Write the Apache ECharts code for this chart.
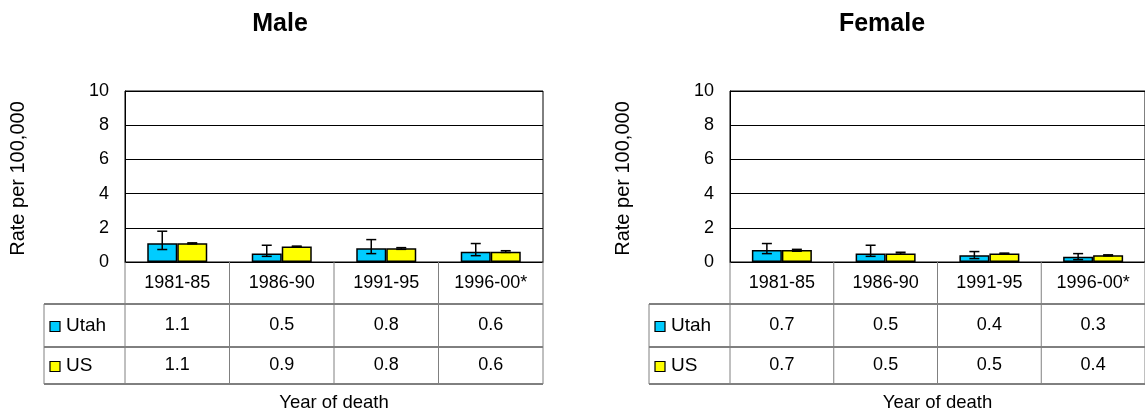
<!DOCTYPE html>
<html><head><meta charset="utf-8">
<script src="https://cdn.jsdelivr.net/npm/echarts@6/dist/echarts.min.js"></script>
<style>html,body{margin:0;padding:0;background:#fff}#c{width:1145px;height:418px}</style>
</head><body><div id="c"></div>
<script>
const categories = ['1981-85','1986-90','1991-95','1996-00*'];
const yTicks = [0,2,4,6,8,10];
const maleUtah = [1.1,0.5,0.8,0.6];
const maleUS = [1.1,0.9,0.8,0.6];
const femaleUtah = [0.7,0.5,0.4,0.3];
const femaleUS = [0.7,0.5,0.5,0.4];
const maleUtahLow = [0.73,0.33,0.49,0.37];
const maleUtahHigh = [1.8,0.98,1.31,1.08];
const maleUSLow = [1.06,0.88,0.74,0.56];
const maleUSHigh = [1.12,0.93,0.84,0.66];
const femaleUtahLow = [0.49,0.33,0.2,0.14];
const femaleUtahHigh = [1.08,0.98,0.61,0.49];
const femaleUSLow = [0.63,0.46,0.46,0.36];
const femaleUSHigh = [0.74,0.57,0.52,0.42];

const FONT = 'Arial, "Liberation Sans", sans-serif';
const CYAN = '#00CCFF', YELLOW = '#FFFF00';
const panels = [
  {title:'Male', left:125, tOff:150, utah:maleUtah, us:maleUS, uLo:maleUtahLow, uHi:maleUtahHigh, sLo:maleUSLow, sHi:maleUSHigh},
  {title:'Female', left:730, tOff:147, utah:femaleUtah, us:femaleUS, uLo:femaleUtahLow, uHi:femaleUtahHigh, sLo:femaleUSLow, sHi:femaleUSHigh}
];
const PW = 418, TOP = 91, PH = 171, BW = 30;

function errSeries(idx, lo, hi, off){
  return {
    type:'custom', xAxisIndex:idx, yAxisIndex:idx, z:5, silent:true,
    data: lo.map((v,i)=>[i, v, hi[i]]),
    encode:{x:0, y:[1,2]},
    renderItem:(params, api)=>{
      const a = api.coord([api.value(0), api.value(1)]);
      const b = api.coord([api.value(0), api.value(2)]);
      const x = a[0] + off, cw = 5;
      const st = {stroke:'#000', lineWidth:1.5};
      return {type:'group', children:[
        {type:'line', shape:{x1:x,y1:a[1],x2:x,y2:b[1]}, style:st},
        {type:'line', shape:{x1:x-cw,y1:a[1],x2:x+cw,y2:a[1]}, style:st},
        {type:'line', shape:{x1:x-cw,y1:b[1],x2:x+cw,y2:b[1]}, style:st}
      ]};
    }
  };
}

const option = {
  animation:false,
  backgroundColor:'#fff',
  title: panels.map((p,i)=>({
    text:p.title, left: p.left + p.tOff, top: 7, textAlign:'center',
    textStyle:{fontFamily:FONT, fontSize:25, fontWeight:'bold', color:'#000'}
  })),
  grid: panels.map(p=>({left:p.left, top:TOP, width:PW, height:PH, show:true, borderColor:'#000', borderWidth:1, containLabel:false})),
  xAxis: panels.map((p,i)=>({
    type:'category', gridIndex:i, data:categories,
    axisLine:{show:true, lineStyle:{color:'#000', width:1}},
    axisTick:{show:false}, axisLabel:{show:false}, splitLine:{show:false}
  })),
  yAxis: panels.map((p,i)=>({
    type:'value', gridIndex:i, min:yTicks[0], max:yTicks[yTicks.length-1], interval:2,
    axisLine:{show:true, lineStyle:{color:'#000'}}, axisTick:{show:false},
    axisLabel:{fontFamily:FONT, fontSize:18, color:'#000', margin:16},
    splitLine:{show:true, lineStyle:{color:'#000', width:1}}
  })),
  series: []
};
panels.forEach((p,i)=>{
  option.series.push({type:'bar', name:'Utah', xAxisIndex:i, yAxisIndex:i, data:p.utah, barWidth:BW, barGap:'0%',
    itemStyle:{color:CYAN, borderColor:'#000', borderWidth:1.5}});
  option.series.push({type:'bar', name:'US', xAxisIndex:i, yAxisIndex:i, data:p.us, barWidth:BW, barGap:'0%',
    itemStyle:{color:YELLOW, borderColor:'#000', borderWidth:1.5}});
  option.series.push(errSeries(i, p.uLo, p.uHi, -BW/2));
  option.series.push(errSeries(i, p.sLo, p.sHi, BW/2));
});

const chart = echarts.init(document.getElementById('c'), null, {renderer:'canvas'});
chart.setOption(option);

// data table below each plot
const g = [];
const H1 = 42, H2 = 43, H3 = 37, LEG = 81;
panels.forEach((p,i)=>{
  const c0 = chart.convertToPixel({xAxisIndex:i}, 0);
  const c1 = chart.convertToPixel({xAxisIndex:i}, 1);
  const cw = c1 - c0;
  const y0 = chart.convertToPixel({yAxisIndex:i}, 0);
  const yMid = chart.convertToPixel({yAxisIndex:i}, 5);
  const xl = c0 - cw/2, xr = xl + cw*categories.length;
  const r1 = y0 + H1, r2 = r1 + H2, r3 = r2 + H3;
  const black = {stroke:'#000', lineWidth:1}, gray = {stroke:'#808080', lineWidth:1};
  [r1, r2, r3].forEach(y=>g.push({type:'line', shape:{x1:xl-LEG, y1:y, x2:xr, y2:y}, style:black, z:10}));
  for(let k=0;k<=categories.length;k++){
    const x = xl + k*cw;
    g.push({type:'line', shape:{x1:x, y1:y0, x2:x, y2:r3}, style:gray, z:10});
  }
  g.push({type:'line', shape:{x1:xl-LEG, y1:r1, x2:xl-LEG, y2:r3}, style:gray, z:10});
  const ts = (t,x,y,al,fs)=>({type:'text', x:x, y:y, z:11, style:{text:t, fontFamily:FONT, fontSize:fs||18, fill:'#000', align:al||'center', verticalAlign:'middle'}});
  categories.forEach((cat,k)=>{
    const cx = c0 + k*cw;
    g.push(ts(cat, cx, (y0+r1)/2));
    g.push(ts(p.utah[k].toFixed(1), cx, (r1+r2)/2));
    g.push(ts(p.us[k].toFixed(1), cx, (r2+r3)/2));
  });
  [[CYAN,'Utah',(r1+r2)/2],[YELLOW,'US',(r2+r3)/2]].forEach(([col,lab,yc])=>{
    g.push({type:'rect', shape:{x:xl-LEG+6, y:yc-4, width:10, height:10}, style:{fill:col, stroke:'#000', lineWidth:1.2}, z:11});
    g.push(ts(lab, xl-LEG+22, yc, 'left', 19));
  });
  g.push(ts('Year of death', (xl+xr)/2, r3+19, 'center', 18.5));
  g.push({type:'text', x:xl-107, y:yMid+2, rotation:Math.PI/2, z:11,
    style:{text:'Rate per 100,000', fontFamily:FONT, fontSize:20, fill:'#000', align:'center', verticalAlign:'middle'}});
});
chart.setOption({graphic:{elements:g}});
</script>
</body></html>
